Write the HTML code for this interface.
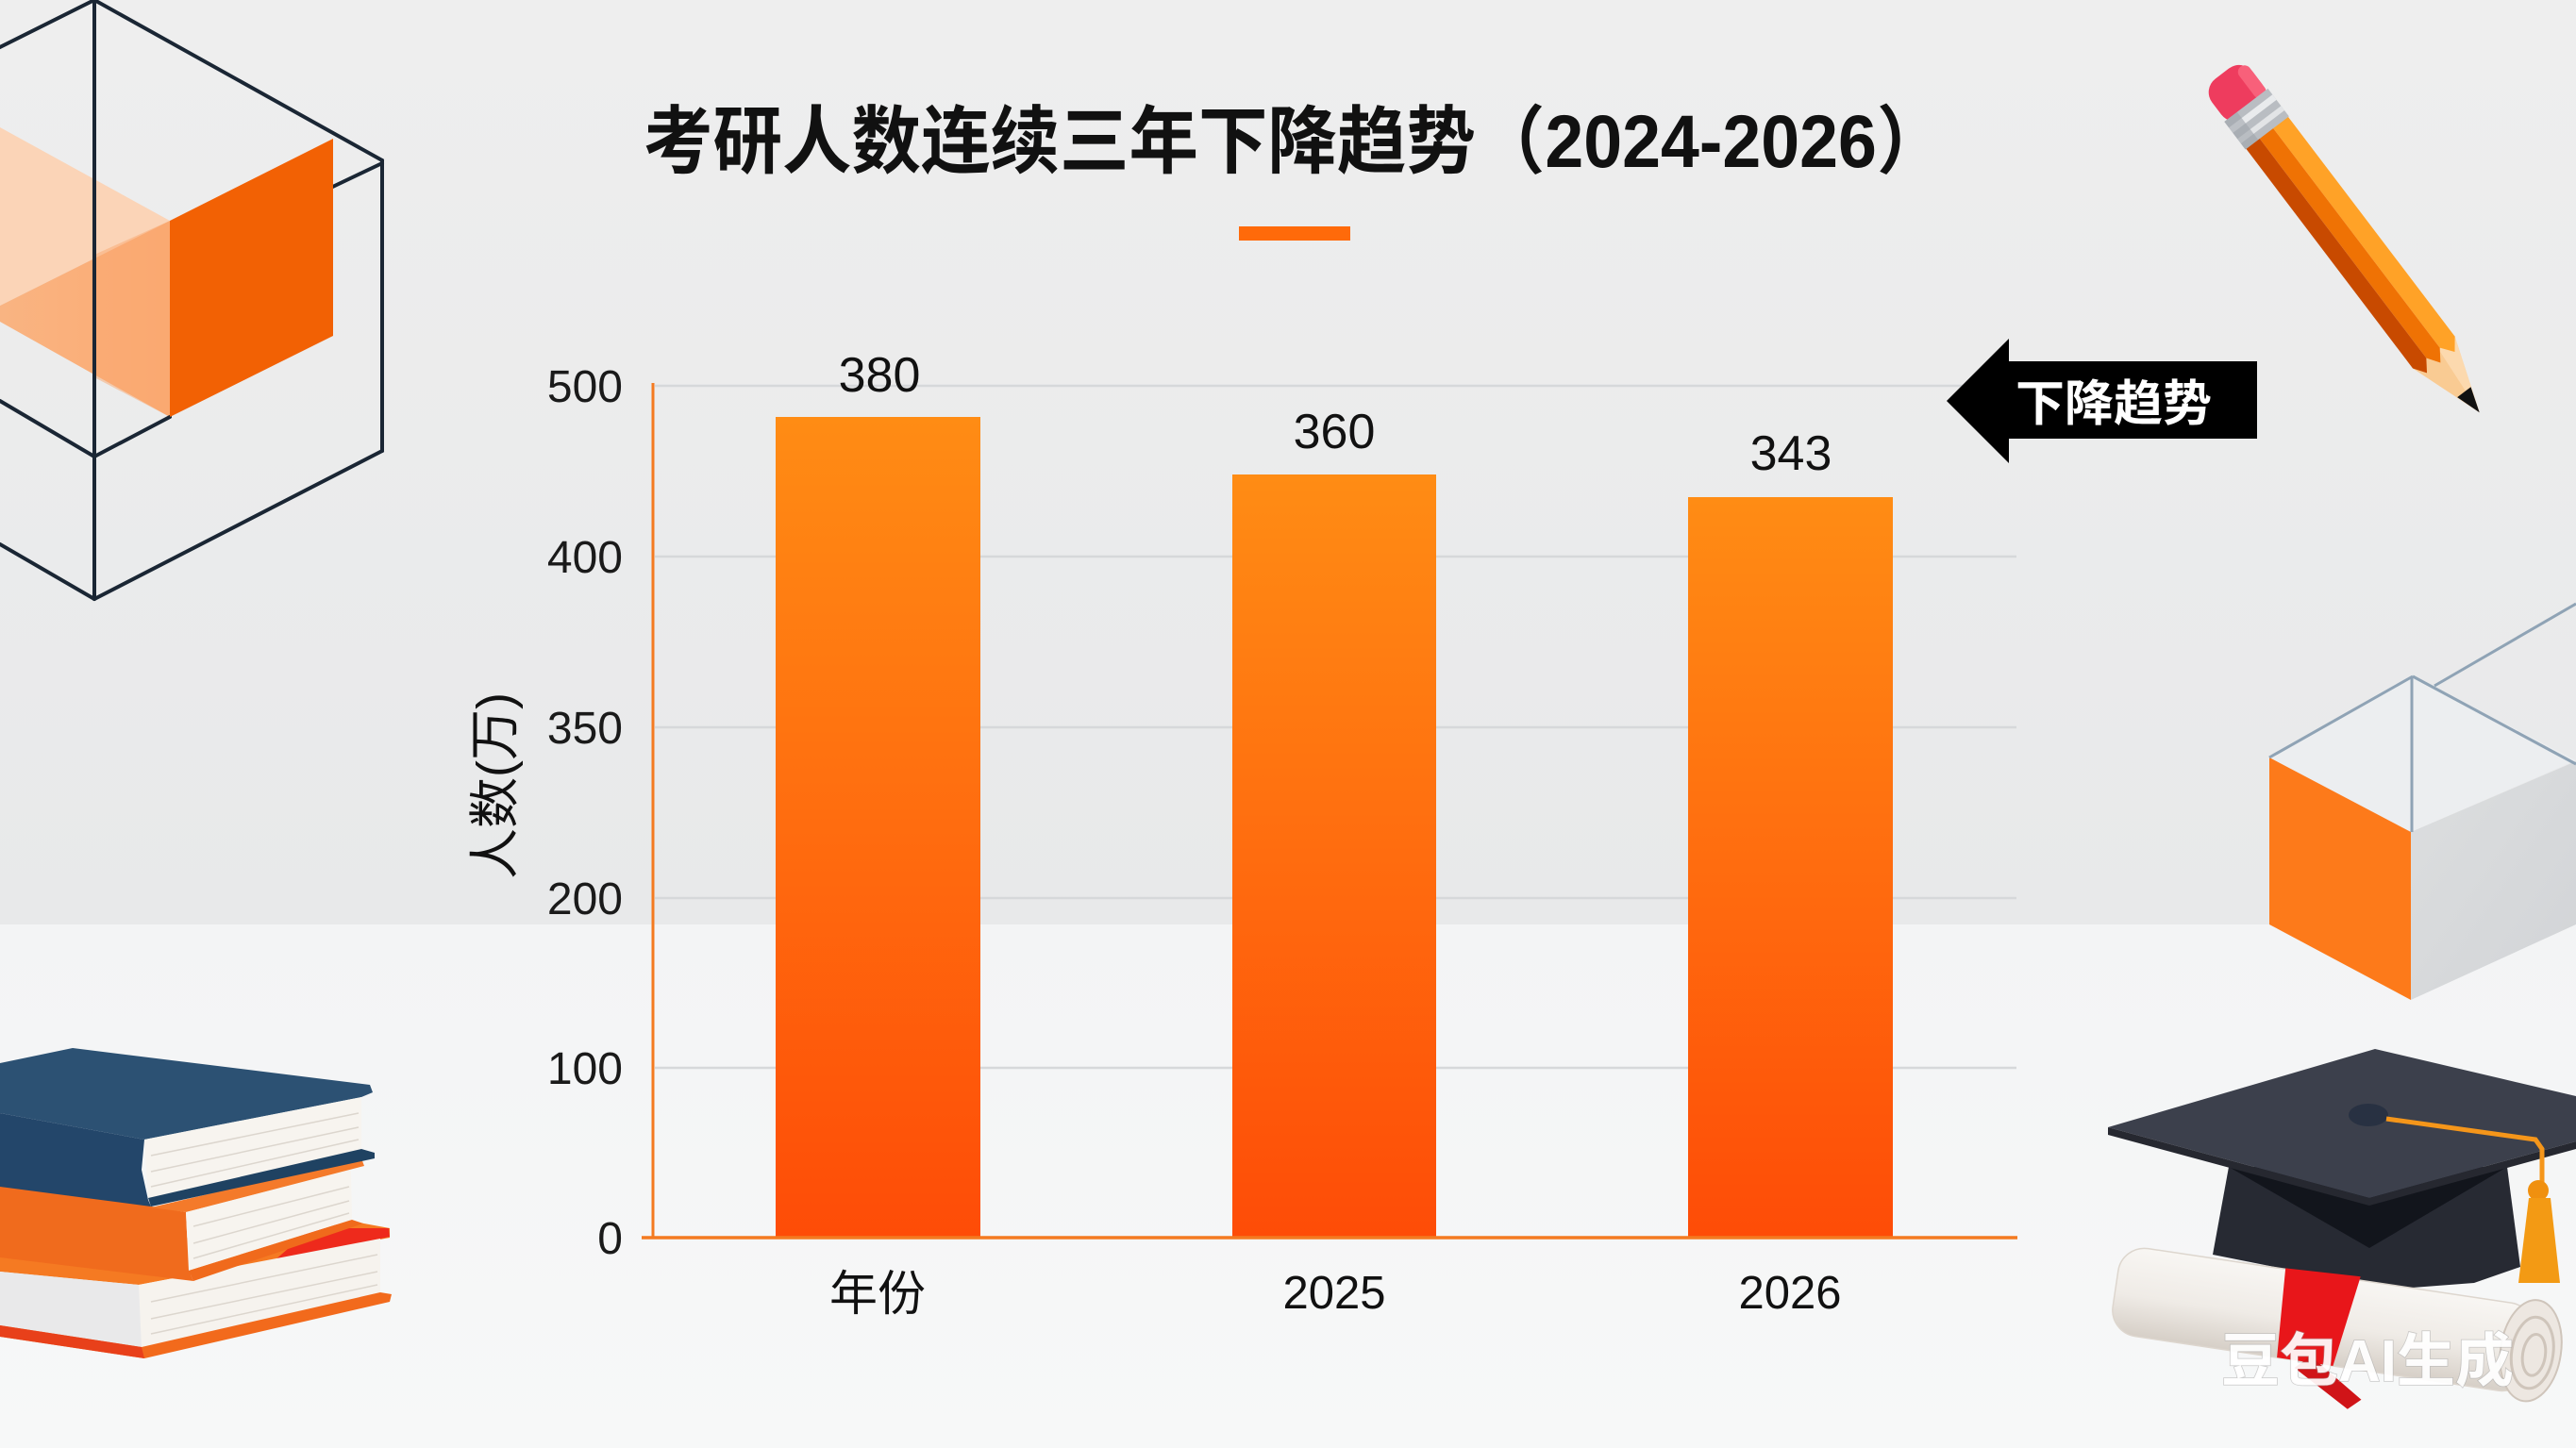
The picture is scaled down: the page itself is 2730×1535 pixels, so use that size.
<!DOCTYPE html>
<html><head><meta charset="utf-8"><style>
html,body{margin:0;padding:0;background:#eeeeee;}
svg{display:block;}
text{font-family:"Liberation Sans","Noto Sans CJK SC",sans-serif;}
</style></head><body>
<svg width="2730" height="1535" viewBox="0 0 2730 1535" xmlns="http://www.w3.org/2000/svg">
<defs>
<linearGradient id="bgTop" x1="0" y1="0" x2="0" y2="1">
<stop offset="0" stop-color="#eeeeee"/><stop offset="1" stop-color="#e8e9ea"/></linearGradient>
<linearGradient id="bgBot" x1="0" y1="0" x2="0" y2="1">
<stop offset="0" stop-color="#f3f4f5"/><stop offset="1" stop-color="#f7f8f8"/></linearGradient>
<linearGradient id="bar" x1="0" y1="0" x2="0" y2="1">
<stop offset="0" stop-color="#ff8c14"/><stop offset="0.5" stop-color="#ff6c0f"/><stop offset="1" stop-color="#fe4c07"/></linearGradient>
<linearGradient id="peach" x1="0" y1="0" x2="1" y2="0">
<stop offset="0" stop-color="#f9b482"/><stop offset="1" stop-color="#fbaa72"/></linearGradient>
<linearGradient id="grayface" x1="0" y1="0" x2="1" y2="1">
<stop offset="0" stop-color="#dcdedf"/><stop offset="1" stop-color="#d2d4d7"/></linearGradient>
<linearGradient id="scroll" x1="0" y1="0" x2="0" y2="1">
<stop offset="0" stop-color="#f8f6f3"/><stop offset="0.55" stop-color="#efebe6"/><stop offset="1" stop-color="#d6cfc7"/></linearGradient>
</defs>

<!-- background -->
<rect x="0" y="0" width="2730" height="980" fill="url(#bgTop)"/>
<rect x="0" y="980" width="2730" height="555" fill="url(#bgBot)"/>

<!-- left wireframe cube -->
<g>
<polygon points="0,135 180,234 0,324" fill="#fbd4b7"/>
<polygon points="0,324 180,234 180,442 0,341" fill="url(#peach)"/>
<polygon points="100,270 180,234 180,442 100,400" fill="#f9a870" opacity="0.5"/>
<g stroke="#1a2634" stroke-width="4" fill="none" stroke-linecap="round">
<line x1="100" y1="0" x2="100" y2="635"/>
<line x1="100" y1="0" x2="405" y2="170"/>
<line x1="405" y1="170" x2="405" y2="478"/>
<line x1="405" y1="478" x2="100" y2="635"/>
<line x1="100" y1="635" x2="0" y2="577"/>
<line x1="100" y1="0" x2="0" y2="50"/>
<line x1="0" y1="425" x2="100" y2="484"/>
<line x1="100" y1="484" x2="180" y2="442"/>
<line x1="340" y1="204" x2="405" y2="173"/>
</g>
<polygon points="180,234 353,147 353,356 180,442" fill="#f26104"/>
</g>

<!-- right cube -->
<g>
<polygon points="2405,803 2557,717 2730,806 2555,882" fill="#eceef0"/>
<polygon points="2405,803 2555,882 2555,1060 2405,980" fill="#fd7a1a"/>
<polygon points="2555,882 2730,807 2730,980 2555,1060" fill="url(#grayface)"/>
<g stroke="#8fa3b5" stroke-width="3" fill="none">
<line x1="2405" y1="803" x2="2557" y2="717"/>
<line x1="2556" y1="717" x2="2556" y2="882"/>
<line x1="2557" y1="717" x2="2730" y2="810"/>
<line x1="2580" y1="727" x2="2730" y2="640"/>
</g>
</g>

<!-- title -->
<g transform="translate(682,177) scale(1,1.07)">
<text x="0" y="0" font-size="73.5" font-weight="bold" fill="#111">考研人数连续三年下降趋势（2024-2026）</text>
</g>
<rect x="1313" y="240" width="118" height="15" fill="#ff6a0a"/>

<!-- gridlines -->
<g stroke="#d6d8da" stroke-width="2.5">
<line x1="694" y1="409" x2="2137" y2="409"/>
<line x1="694" y1="590" x2="2137" y2="590"/>
<line x1="694" y1="771" x2="2137" y2="771"/>
<line x1="694" y1="952" x2="2137" y2="952"/>
<line x1="694" y1="1132" x2="2137" y2="1132"/>
</g>

<!-- bars -->
<rect x="822" y="442" width="217" height="870" fill="url(#bar)"/>
<rect x="1306" y="503" width="216" height="809" fill="url(#bar)"/>
<rect x="1789" y="527" width="217" height="785" fill="url(#bar)"/>

<!-- axes -->
<line x1="692" y1="406" x2="692" y2="1313" stroke="#f47a20" stroke-width="3"/>
<line x1="680" y1="1312" x2="2138" y2="1312" stroke="#f47a20" stroke-width="3.5"/>

<!-- y tick labels -->
<g font-size="48" fill="#1a1a1a" text-anchor="end">
<text x="660" y="426">500</text>
<text x="660" y="607">400</text>
<text x="660" y="788">350</text>
<text x="660" y="969">200</text>
<text x="660" y="1149">100</text>
<text x="660" y="1329">0</text>
</g>

<!-- y title -->
<text transform="translate(524,833) rotate(-90)" x="0" y="19" font-size="54" fill="#111" text-anchor="middle">人数(万)</text>

<!-- value labels -->
<g font-size="52" fill="#111" text-anchor="middle">
<text x="932" y="415">380</text>
<text x="1414" y="475">360</text>
<text x="1898" y="498">343</text>
</g>

<!-- x labels -->
<g font-size="49" fill="#111" text-anchor="middle">
<text x="930" y="1389" font-size="51">年份</text>
<text x="1414" y="1387">2025</text>
<text x="1897" y="1387">2026</text>
</g>

<!-- callout arrow -->
<polygon points="2063,425 2129,359 2129,383 2392,383 2392,465 2129,465 2129,491" fill="#000"/>
<text x="2240" y="446" font-size="52" font-weight="bold" fill="#fff" text-anchor="middle">下降趋势</text>

<!-- pencil -->
<g transform="translate(2355,78) rotate(52.8)">
<polygon points="371,-28 371,28 451,0" fill="#f9cb93"/>
<polygon points="371,-28 451,0 371,-6" fill="#fcd9ae"/>
<polygon points="424,-9 424,9 451,0" fill="#111"/>
<polygon points="78,-28 371,-28 384,-18 371,-8 78,-8" fill="#ffa227"/>
<polygon points="78,-8 371,-8 384,1 371,10 78,10" fill="#ef7204"/>
<polygon points="78,10 371,10 384,19 371,28 78,28" fill="#c84a00"/>
<rect x="0" y="-27" width="52" height="54" rx="18" fill="#ee3c5e"/>
<rect x="6" y="-27" width="40" height="14" rx="7" fill="#f8607a"/>
<rect x="42" y="-29" width="37" height="58" fill="#b9bdc2"/>
<rect x="50" y="-29" width="7" height="58" fill="#e9ebed"/>
<rect x="65" y="-29" width="6" height="58" fill="#e2e4e6"/>
<rect x="42" y="12" width="37" height="17" fill="#9fa4aa" opacity="0.6"/>
</g>

<!-- books -->
<g>
<!-- bottom book -->
<polygon points="0,1330 380,1296 413,1302 413,1312 147,1362 0,1348" fill="#f57a22"/>
<polygon points="330,1302 412,1302 413,1311 290,1337" fill="#ee2a1c"/>
<polygon points="147,1362 403,1313 403,1370 150,1428" fill="#f6f3ee"/>
<g stroke="#dcd6ce" stroke-width="1.5">
<line x1="160" y1="1380" x2="400" y2="1330"/>
<line x1="160" y1="1398" x2="400" y2="1348"/>
<line x1="160" y1="1414" x2="400" y2="1362"/>
</g>
<polygon points="0,1348 147,1362 150,1428 0,1405" fill="#e9e9ea"/>
<polygon points="0,1405 150,1428 403,1370 415,1372 413,1380 153,1440 0,1417" fill="#f26a1c"/>
<polygon points="0,1405 150,1428 153,1440 0,1417" fill="#e8401a"/>
<!-- middle book -->
<polygon points="0,1252 197,1285 200,1347 205,1358 0,1333" fill="#f06b1d"/>
<polygon points="160,1280 383,1228 386,1236 197,1285" fill="#f47a2a"/>
<polygon points="197,1285 372,1240 373,1293 200,1347" fill="#f7f4ef"/>
<g stroke="#dcd6ce" stroke-width="1.5">
<line x1="205" y1="1300" x2="370" y2="1258"/>
<line x1="205" y1="1318" x2="370" y2="1273"/>
<line x1="205" y1="1334" x2="370" y2="1286"/>
</g>
<polygon points="200,1347 373,1293 385,1297 205,1358" fill="#f06a1c"/>
<!-- top book -->
<polygon points="0,1127 77,1111 392,1150 395,1158 383,1163 153,1208 0,1180" fill="#2c5173"/>
<polygon points="0,1180 153,1208 150,1240 157,1272 160,1279 0,1258" fill="#23466a"/>
<polygon points="153,1208 383,1163 383,1220 157,1270" fill="#f7f4ef"/>
<g stroke="#dcd6ce" stroke-width="1.5">
<line x1="160" y1="1225" x2="380" y2="1180"/>
<line x1="160" y1="1242" x2="380" y2="1195"/>
<line x1="160" y1="1258" x2="380" y2="1208"/>
</g>
<polygon points="157,1270 383,1218 397,1222 397,1228 160,1279" fill="#1f4262"/>
</g>

<!-- graduation cap -->
<g>
<polygon points="2362,1237 2657,1237 2671,1343 2622,1360 2531,1367 2345,1330" fill="#272a33"/>
<polygon points="2362,1237 2511,1323 2657,1237" fill="#12151c"/>
<polygon points="2234,1195 2517,1112 2730,1162 2730,1210 2511,1270" fill="#3c404c"/>
<polygon points="2234,1195 2511,1270 2730,1210 2730,1218 2511,1278 2234,1203" fill="#262830"/>
<ellipse cx="2510" cy="1182" rx="21" ry="12" fill="#283142"/>
<polyline points="2529,1186 2687,1208 2694,1218 2694,1256" fill="none" stroke="#f5961a" stroke-width="5"/>
<circle cx="2690" cy="1262" r="11" fill="#f0900f"/>
<polygon points="2680,1270 2703,1270 2713,1360 2669,1360" fill="#f39a14"/>
</g>

<!-- scroll -->
<g transform="translate(2242,1366) rotate(8.5)">
<rect x="0" y="-47" width="445" height="94" rx="28" fill="url(#scroll)" stroke="#ddd6ce" stroke-width="1.5"/>
<polygon points="175,-48 255,-51 240,47 180,47" fill="#e8161a"/>
<polygon points="215,40 275,78 262,90 200,55" fill="#d01418"/>
<ellipse cx="445" cy="0" rx="32" ry="54" fill="#ede7e1" stroke="#cfc5bb" stroke-width="2"/>
<ellipse cx="447" cy="2" rx="22" ry="38" fill="none" stroke="#cfc5bb" stroke-width="3"/>
<ellipse cx="449" cy="4" rx="12" ry="22" fill="none" stroke="#cfc5bb" stroke-width="3"/>
</g>

<!-- watermark -->
<text x="2509" y="1464" font-size="62" font-weight="bold" fill="#ffffff" fill-opacity="0.92" stroke="#a8a8a8" stroke-opacity="0.55" stroke-width="1.5" paint-order="stroke" text-anchor="middle">豆包AI生成</text>
</svg>
</body></html>
